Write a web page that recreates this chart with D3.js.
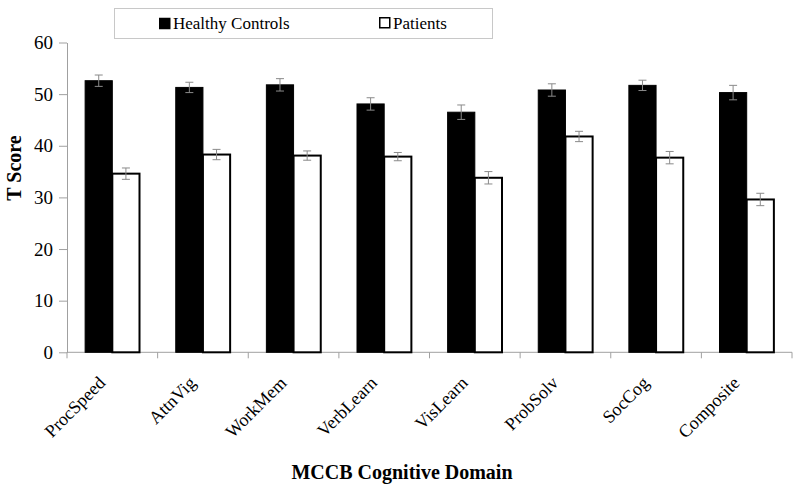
<!DOCTYPE html>
<html>
<head>
<meta charset="utf-8">
<script src="https://cdn.jsdelivr.net/npm/d3@7"></script>
<style>
  body { margin: 0; background: #fff; }
  svg { display: block; }
  svg text { font-family: "Liberation Serif", "Times New Roman", serif !important; fill: #000; }
</style>
</head>
<body>
<svg id="chart" width="800" height="492" font-family="Liberation Serif"></svg>
<script>
const categories = ["ProcSpeed", "AttnVig", "WorkMem", "VerbLearn", "VisLearn", "ProbSolv", "SocCog", "Composite"];
const seriesNames = ["Healthy Controls", "Patients"];
const controls = [52.6, 51.3, 51.8, 48.1, 46.5, 50.8, 51.7, 50.3];
const controlsErr = [1.1, 1.0, 1.2, 1.2, 1.4, 1.2, 1.0, 1.4];
const patients = [34.6, 38.3, 38.1, 37.9, 33.8, 41.8, 37.7, 29.6];
const patientsErr = [1.1, 1.0, 0.9, 0.8, 1.2, 1.0, 1.2, 1.2];
const yTicks = [0, 10, 20, 30, 40, 50, 60];

const FONT = "'Liberation Serif', 'Times New Roman', serif";
const svg = d3.select("#chart");
const plotLeft = 67, plotRight = 792, plotTop = 42.5, plotBottom = 352.3;

const x = d3.scaleBand().domain(categories).range([plotLeft, plotRight]).paddingInner(0.4).paddingOuter(0.2);
const xs = d3.scaleBand().domain(seriesNames).range([0, x.bandwidth()]);
const y = d3.scaleLinear().domain([0, 60]).range([plotBottom, plotTop]);

const axisColor = "#a0a0a0";

// y axis
const yAxis = svg.append("g").attr("transform", `translate(${plotLeft},0)`)
  .call(d3.axisLeft(y).tickValues(yTicks).tickSize(8).tickPadding(6).tickSizeOuter(0));
yAxis.attr("font-family", FONT).attr("font-size", 19);
yAxis.select(".domain").attr("stroke", axisColor);
yAxis.selectAll(".tick line").attr("stroke", axisColor);
yAxis.selectAll(".tick text").attr("font-family", FONT).attr("font-size", 19).attr("fill", "#000");

// x axis line + boundary ticks
svg.append("line").attr("x1", plotLeft).attr("x2", plotRight).attr("y1", plotBottom).attr("y2", plotBottom).attr("stroke", axisColor);
const half = x.step() * x.paddingInner() / 2;
const bounds = categories.map(c => x(c) - half).concat([x(categories[categories.length - 1]) + x.bandwidth() + half]);
svg.append("g").selectAll("line").data(bounds).join("line")
  .attr("x1", d => d).attr("x2", d => d).attr("y1", plotBottom).attr("y2", plotBottom + 6)
  .attr("stroke", axisColor);

// bars
const rows = categories.map((c, i) => ({ c, vals: [
  { s: seriesNames[0], v: controls[i], e: controlsErr[i] },
  { s: seriesNames[1], v: patients[i], e: patientsErr[i] }
]}));

const g = svg.append("g").selectAll("g").data(rows).join("g")
  .attr("transform", d => `translate(${x(d.c)},0)`);

g.selectAll("rect").data(d => d.vals).join("rect")
  .attr("x", d => xs(d.s))
  .attr("y", d => y(d.v))
  .attr("width", xs.bandwidth())
  .attr("height", d => y(0) - y(d.v))
  .attr("fill", d => d.s === seriesNames[0] ? "#000" : "#fff")
  .attr("stroke", "#000")
  .attr("stroke-width", d => d.s === seriesNames[0] ? 1 : 2);

// error bars
const eb = g.selectAll("g.err").data(d => d.vals).join("g").attr("class", "err");
const cap = 4;
eb.append("line")
  .attr("x1", d => xs(d.s) + xs.bandwidth() / 2).attr("x2", d => xs(d.s) + xs.bandwidth() / 2)
  .attr("y1", d => y(d.v + d.e)).attr("y2", d => y(d.v - d.e))
  .attr("stroke", "#8a8a8a").attr("stroke-width", 1);
eb.append("line")
  .attr("x1", d => xs(d.s) + xs.bandwidth() / 2 - cap).attr("x2", d => xs(d.s) + xs.bandwidth() / 2 + cap)
  .attr("y1", d => y(d.v + d.e)).attr("y2", d => y(d.v + d.e))
  .attr("stroke", "#8a8a8a").attr("stroke-width", 1);
eb.append("line")
  .attr("x1", d => xs(d.s) + xs.bandwidth() / 2 - cap).attr("x2", d => xs(d.s) + xs.bandwidth() / 2 + cap)
  .attr("y1", d => y(d.v - d.e)).attr("y2", d => y(d.v - d.e))
  .attr("stroke", "#8a8a8a").attr("stroke-width", 1);

// x labels
svg.append("g").selectAll("text").data(categories).join("text")
  .attr("transform", c => `translate(${x(c) + x.bandwidth() / 2 - 6},384) rotate(-45)`)
  .attr("text-anchor", "end")
  .attr("font-family", FONT)
  .attr("font-size", 18)
  .text(c => c);

// axis titles
svg.append("text").attr("transform", "translate(21,168) rotate(-90)")
  .attr("text-anchor", "middle").attr("font-family", FONT).attr("font-size", 20).attr("font-weight", "bold")
  .text("T Score");
svg.append("text").attr("x", 402).attr("y", 479)
  .attr("text-anchor", "middle").attr("font-family", FONT).attr("font-size", 20).attr("font-weight", "bold")
  .text("MCCB Cognitive Domain");

// legend
const lg = svg.append("g");
lg.append("rect").attr("x", 114.5).attr("y", 8.5).attr("width", 378).attr("height", 30)
  .attr("fill", "#fff").attr("stroke", "#c8c8c8");
const legendX = [159, 379];
seriesNames.forEach((s, i) => {
  lg.append("rect").attr("x", legendX[i] + (i === 1 ? 0.75 : 0)).attr("y", 17.75)
    .attr("width", i === 1 ? 10 : 11.5).attr("height", i === 1 ? 10 : 11.5)
    .attr("fill", i === 0 ? "#000" : "#fff").attr("stroke", "#000").attr("stroke-width", i === 0 ? 0 : 1.5);
  lg.append("text").attr("x", legendX[i] + 14).attr("y", 29)
    .attr("font-family", FONT).attr("font-size", 17).text(s);
});
</script>
</body>
</html>
